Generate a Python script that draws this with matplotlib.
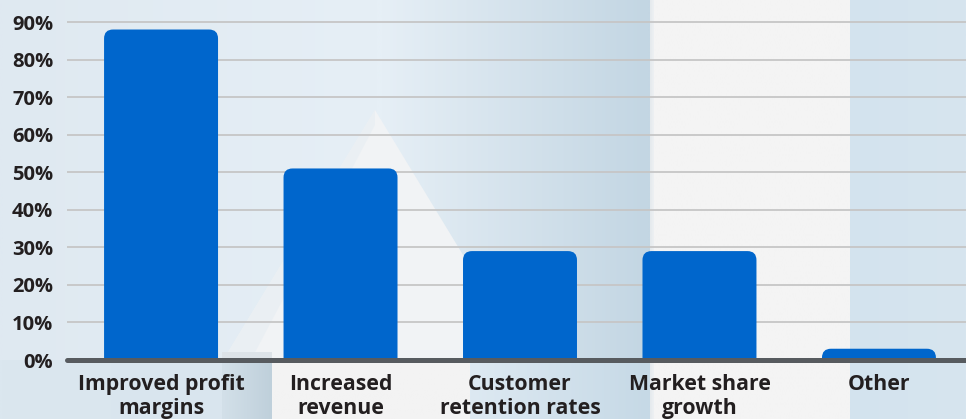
import numpy as np
import matplotlib.pyplot as plt
import matplotlib.colors as mcolors
from matplotlib.patches import FancyBboxPatch, Polygon, Rectangle

# survey results: share of respondents per benefit
categories = ["Improved profit\nmargins", "Increased\nrevenue",
              "Customer\nretention rates", "Market share\ngrowth", "Other"]
shares = [88, 51, 29, 29, 3]
y_ticks = [0, 10, 20, 30, 40, 50, 60, 70, 80, 90]
y_labels = [f"{v}%" for v in y_ticks]

plt.rcParams['font.family'] = ['Open Sans', 'DejaVu Sans']

W, H = 966, 419
fig = plt.figure(figsize=(W / 100, H / 100), dpi=100)

# --- decorative backdrop (pixel coordinates) ---
bg = fig.add_axes([0, 0, 1, 1])
bg.axis('off')


def band(x0, x1, y0, y1, c0, c1):
    t = np.linspace(0, 1, 64)[None, :, None]
    a = np.array(mcolors.to_rgb(c0))
    b = np.array(mcolors.to_rgb(c1))
    bg.imshow(a + (b - a) * t, extent=(x0, x1, y1, y0), aspect='auto',
              interpolation='bilinear', zorder=0)


base = 360
band(0, 380, 0, base, '#dfe9f1', '#e6eff6')
band(380, 650, 0, base, '#e6eff6', '#c3d6e3')
band(650, 654, 0, H, '#e4e9ed', '#eef1f3')
band(654, 850, 0, H, '#f4f4f4', '#f4f4f4')
band(850, W, 0, H, '#d3e3ee', '#d7e5ef')
band(0, 222, base, H, '#dbe7ef', '#d9e5ee')
band(222, 272, base, H, '#d3e0e9', '#bfd0db')
band(272, 470, base, H, '#f3f3f3', '#f3f3f3')
band(470, 650, base, H, '#dde9f2', '#c6d9e6')
bg.add_patch(Polygon([(375, 110), (222, 362), (528, 362)], closed=True,
                     facecolor='#f1f3f5', edgecolor='none', zorder=1))
bg.add_patch(Polygon([(375, 110), (222, 362), (250, 362), (375, 125)], closed=True,
                     facecolor='#e8eef3', edgecolor='none', zorder=1, alpha=0.7))
bg.add_patch(Rectangle((222, 352), 50, 10, facecolor='#dde3e8',
                       edgecolor='none', zorder=2))
bg.set_xlim(0, W)
bg.set_ylim(H, 0)

# --- chart ---
top_val = 92
px_per_unit = (360 - 22) / 90
top_px = 360 - top_val * px_per_unit
ax = fig.add_axes([67 / W, (H - 360) / H, (W - 67) / W, (360 - top_px) / H])
ax.set_facecolor('none')

x = np.arange(len(categories))
bar_w = 0.635
ax.set_xlim(-0.524, 4.485)
ax.set_ylim(0, top_val)

# rounded-top bars; the bottom corners sit below the axis and get clipped
r_px = 9
x_unit = (W - 67) / (4.485 + 0.524)
rx = r_px / x_unit
ry = r_px / px_per_unit
for xi, v in zip(x, shares):
    p = FancyBboxPatch((xi - bar_w / 2, -ry * 2), bar_w, v + ry * 2,
                       boxstyle=f"round,pad=0,rounding_size={rx}",
                       mutation_aspect=ry / rx,
                       facecolor='#0066cc', edgecolor='none', zorder=3)
    ax.add_patch(p)

ax.set_yticks(y_ticks)
ax.set_yticklabels(y_labels)
ax.yaxis.grid(True, color='#c6c6c6', linewidth=1.3)
ax.set_axisbelow(True)
ax.axhline(0, color='#575b5f', linewidth=3.6, solid_capstyle='round',
           clip_on=False, zorder=4)

ax.set_xticks(x)
ax.set_xticklabels(categories, linespacing=1.22)
for s in ax.spines.values():
    s.set_visible(False)
ax.tick_params(axis='y', length=0, pad=10, labelsize=14.5, labelcolor='#231f20')
ax.tick_params(axis='x', length=0, pad=10, labelsize=15.3, labelcolor='#231f20')
for lbl in ax.get_xticklabels() + ax.get_yticklabels():
    lbl.set_fontweight('bold')

fig.savefig('out.png', dpi=100)
